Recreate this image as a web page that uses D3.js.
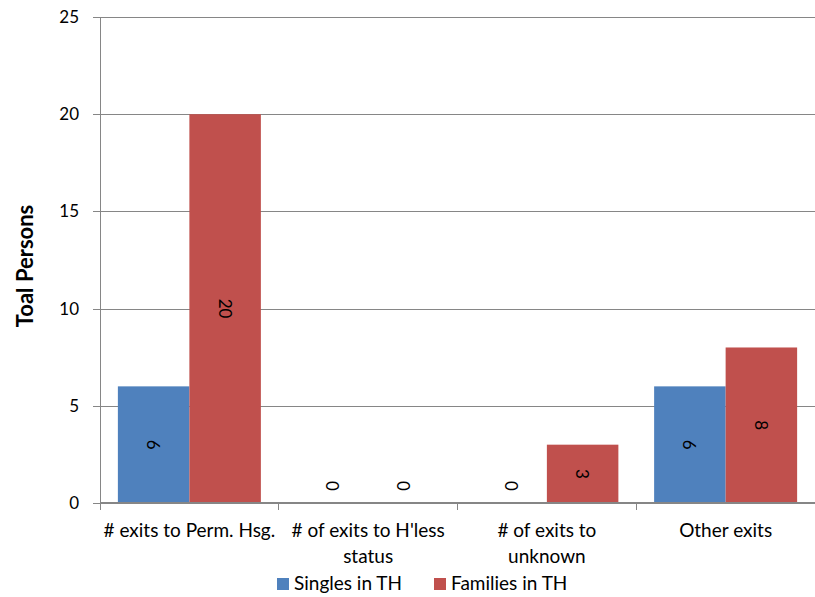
<!DOCTYPE html>
<html>
<head>
<meta charset="utf-8">
<script src="https://cdn.jsdelivr.net/npm/d3@7"></script>
<style>
  body { margin: 0; background: #fff; }
  svg { display: block; }
  text { font-family: Lato, "Open Sans", sans-serif; fill: #000; }
</style>
</head>
<body>
<svg id="chart" width="815" height="597"></svg>
<script>
const categories = [["# exits to Perm. Hsg."], ["# of exits to H'less", "status"], ["# of exits to", "unknown"], ["Other exits"]];
const seriesNames = ["Singles in TH", "Families in TH"];
const singles = [6, 0, 0, 6];
const families = [20, 0, 3, 8];
const yTicks = [0, 5, 10, 15, 20, 25];
const colors = ["#4F81BD", "#C0504D"];
const yTitle = "Toal Persons";

(function () {
const svg = d3.select("#chart");
const mLeft = 100, mRight = 815, mTop = 17, mBottom = 503;

const x0 = d3.scaleBand().domain(d3.range(categories.length)).range([mLeft, mRight]).paddingInner(0.2).paddingOuter(0.1);
const xBand = d3.scaleBand().domain(d3.range(categories.length)).range([mLeft, mRight]);
const x1 = d3.scaleBand().domain([0, 1]).range([0, x0.bandwidth()]);
const y = d3.scaleLinear().domain([0, 25]).range([mBottom, mTop]);

// grid lines
svg.append("g").selectAll("line").data(yTicks.filter(d => d > 0)).join("line")
  .attr("x1", mLeft).attr("x2", mRight)
  .attr("y1", d => Math.round(y(d)) + 0.5).attr("y2", d => Math.round(y(d)) + 0.5)
  .attr("stroke", "#868686").attr("stroke-width", 1);

// y axis
const yAxis = d3.axisLeft(y).tickValues(yTicks).tickSize(7).tickPadding(14).tickFormat(d3.format("d"));
const gy = svg.append("g").attr("transform", `translate(${mLeft},0)`).call(yAxis);
gy.select(".domain").attr("stroke", "#868686").attr("shape-rendering", "crispEdges");
gy.selectAll(".tick line").attr("stroke", "#868686").attr("shape-rendering", "crispEdges");
gy.selectAll(".tick text").attr("font-size", 17).attr("font-family", "Lato, sans-serif").attr("fill", "#000");

// bars
const data = categories.map((c, i) => [singles[i], families[i]]);
const groups = svg.append("g").selectAll("g").data(data).join("g")
  .attr("transform", (d, i) => `translate(${x0(i)},0)`);
groups.selectAll("rect").data(d => d).join("rect")
  .attr("x", (d, j) => x1(j)).attr("width", x1.bandwidth())
  .attr("y", d => y(d)).attr("height", d => y(0) - y(d))
  .attr("fill", (d, j) => colors[j]);

// value labels
groups.selectAll("text.val").data(d => d).join("text").attr("class", "val")
  .attr("transform", (d, j) => {
    const cx = x1(j) + x1.bandwidth() / 2;
    const cy = d === 0 ? y(0) - 17 : (y(d) + y(0)) / 2;
    return `translate(${cx},${cy}) rotate(90)`;
  })
  .attr("text-anchor", "middle").attr("dominant-baseline", "central")
  .attr("font-size", 17)
  .text(d => d);

// x axis
const gx = svg.append("g").attr("transform", `translate(0,${mBottom})`);
gx.append("line").attr("x1", mLeft).attr("x2", mRight).attr("y1", 0).attr("y2", 0)
  .attr("stroke", "#868686").attr("stroke-width", 2);
const tickXs = d3.range(categories.length).map(i => xBand(i));
gx.selectAll("line.tk").data(tickXs).join("line").attr("class", "tk")
  .attr("x1", d => d).attr("x2", d => d).attr("y1", 0).attr("y2", 7)
  .attr("stroke", "#868686").attr("shape-rendering", "crispEdges");

const labels = svg.append("g").selectAll("text").data(categories).join("text")
  .attr("text-anchor", "middle").attr("font-size", 19)
  .attr("x", (d, i) => xBand(i) + xBand.bandwidth() / 2)
  .attr("y", 537);
labels.selectAll("tspan").data(d => d).join("tspan")
  .attr("x", function() { return d3.select(this.parentNode).attr("x"); })
  .attr("dy", (d, k) => k === 0 ? 0 : 26)
  .text(d => d);

// y title
svg.append("text").attr("transform", `translate(33,266) rotate(-90)`)
  .attr("text-anchor", "middle").attr("font-size", 22).attr("font-weight", "bold")
  .text(yTitle);

// legend
const legendItems = [{x: 277, name: seriesNames[0], c: colors[0]}, {x: 434, name: seriesNames[1], c: colors[1]}];
const lg = svg.append("g").selectAll("g").data(legendItems).join("g")
  .attr("transform", d => `translate(${d.x},578)`);
lg.append("rect").attr("width", 12).attr("height", 12).attr("fill", d => d.c);
lg.append("text").attr("x", 17).attr("y", 12).attr("font-size", 19).text(d => d.name);
})();
</script>
</body>
</html>
